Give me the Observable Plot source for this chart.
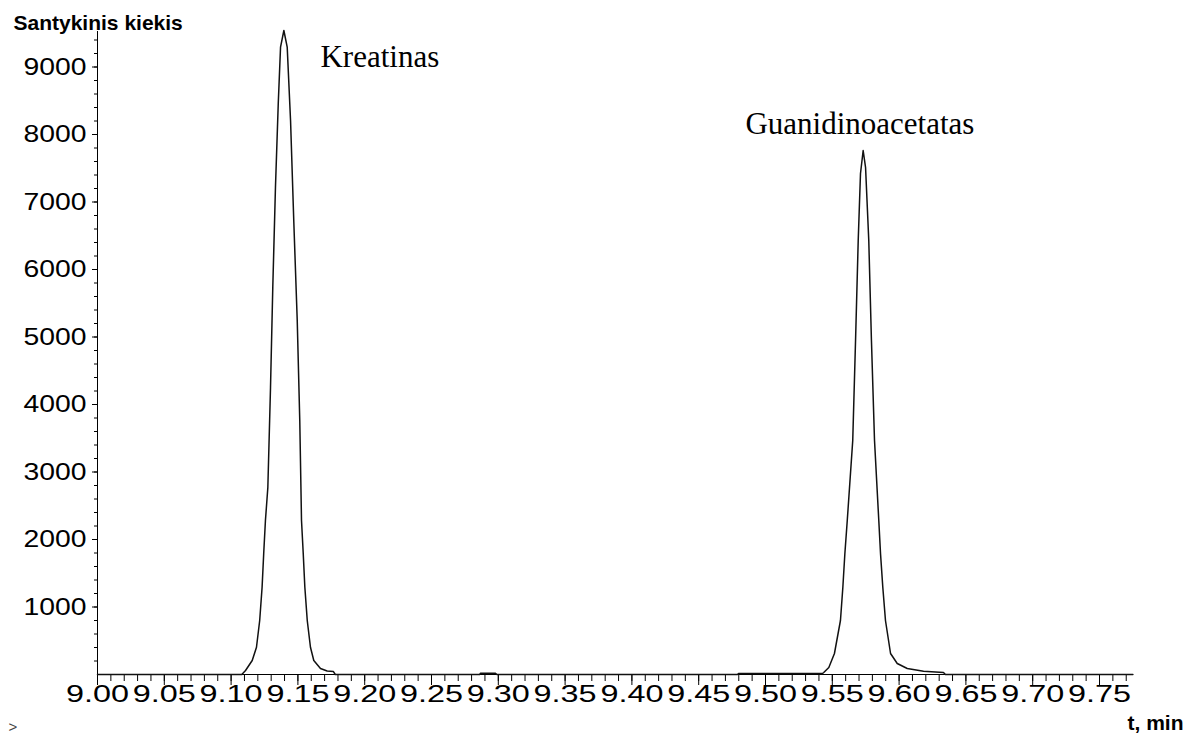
<!DOCTYPE html>
<html>
<head>
<meta charset="utf-8">
<script src="https://cdn.jsdelivr.net/npm/d3@7"></script>
<script src="https://cdn.jsdelivr.net/npm/@observablehq/plot@0.6"></script>
<style>
  html, body { margin: 0; padding: 0; background: #fff; }
  #chart { width: 1196px; height: 735px; overflow: hidden; }
</style>
</head>
<body>
<div id="chart"></div>
<script>
// Chromatogram trace: retention time (min) and relative abundance
const time = [
  9.000, 9.108, 9.1108, 9.1158, 9.1190, 9.1214, 9.1232, 9.1244, 9.1257,
  9.1275, 9.1295, 9.1312, 9.1332, 9.1353, 9.1370, 9.1395,
  9.1420, 9.1445, 9.1469, 9.1495, 9.1514, 9.1527, 9.1540, 9.1552, 9.1570,
  9.1594, 9.1619, 9.1669, 9.1719, 9.1766, 9.1780,
  9.2860, 9.2867, 9.2979, 9.2990,
  9.4790, 9.4798, 9.5427, 9.5436, 9.5474, 9.5516, 9.5561, 9.5579, 9.5594,
  9.5612, 9.5653, 9.5674, 9.5694, 9.5711, 9.5731,
  9.5749, 9.5773, 9.5793, 9.5816, 9.5848, 9.5861, 9.5878, 9.5898, 9.5936,
  9.5986, 9.6061, 9.6183, 9.6332, 9.6347,
  9.775
];
const intensity = [
  0, 0, 59, 207, 404, 800, 1293, 1788, 2281,
  2770, 4252, 5733, 7215, 8459, 9293, 9541,
  9293, 8207, 6726, 5244, 3763, 2281, 1788, 1293, 800,
  404, 207, 89, 52, 44, 0,
  0, 18, 18, 0,
  0, 15, 15, 30, 104, 311, 800, 1293, 1788,
  2281, 3467, 4948, 6430, 7422, 7763,
  7511, 6430, 4948, 3467, 2281, 1788, 1293, 800, 311,
  163, 89, 49, 30, 0,
  0
];

// Peak annotations
const peakNames = ["Kreatinas", "Guanidinoacetatas"];
const peakLabelTime = [9.1669, 9.485];
const peakLabelValue = [8997, 8010];

// Axis ticks
const xTicks = [9.00, 9.05, 9.10, 9.15, 9.20, 9.25, 9.30, 9.35, 9.40, 9.45, 9.50, 9.55, 9.60, 9.65, 9.70, 9.75];
const xMinorTicks = d3.range(0, 78).map(i => +(9 + i * 0.01).toFixed(2));
const yTicks = [1000, 2000, 3000, 4000, 5000, 6000, 7000, 8000, 9000];
const yMinorTicks = d3.range(200, 9600, 200);

const yTitle = "Santykinis kiekis";
const xTitle = "t, min";

const trace = time.map((t, i) => ({t, v: intensity[i]}));
const labels = peakNames.map((n, i) => ({name: n, t: peakLabelTime[i], v: peakLabelValue[i]}));

const sans = "'Liberation Sans', Arial, sans-serif";
const serif = "'Liberation Serif', 'Times New Roman', serif";

const plot = Plot.plot({
  width: 1196,
  height: 735,
  marginLeft: 97,
  marginRight: 63.6,
  marginTop: 31,
  marginBottom: 61,
  style: {background: "#fff", fontFamily: sans, color: "#000"},
  x: {domain: [9.0, 9.775], label: null},
  y: {domain: [0, 9526], label: null},
  marks: [
    Plot.axisY({ticks: yMinorTicks, tickSize: 3, text: null, label: null}),
    Plot.axisY({ticks: yTicks, tickSize: 5, tickPadding: 6, fontSize: 24, tickFormat: d => String(d), label: null}),
    Plot.axisX({ticks: xMinorTicks, tickSize: 7, text: null, label: null}),
    Plot.axisX({ticks: xTicks, tickSize: 11, tickPadding: -1, fontSize: 24, tickFormat: d3.format(".2f"), label: null}),
    Plot.ruleX([9.0], {stroke: "#000", strokeWidth: 1}),
    Plot.ruleY([0], {stroke: "#000", strokeWidth: 1}),
    Plot.line(trace, {x: "t", y: "v", stroke: "#111", strokeWidth: 1.5}),
    Plot.text(labels, {x: "t", y: "v", text: "name", textAnchor: "start", lineAnchor: "bottom",
      fontFamily: serif, fontSize: 31, fill: "#000"}),
    Plot.text([yTitle], {frameAnchor: "top-left", text: d => d, textAnchor: "start", lineAnchor: "bottom",
      dx: -84, dy: -1.5, fontSize: 21, fontWeight: "bold", fill: "#000"}),
    Plot.text([xTitle], {frameAnchor: "bottom-right", text: d => d, textAnchor: "start", lineAnchor: "bottom",
      dx: -5.4, dy: 55, fontSize: 21, fontWeight: "bold", fill: "#000"}),
    Plot.text([">"], {frameAnchor: "bottom-left", text: d => d, textAnchor: "start", lineAnchor: "bottom",
      dx: -89, dy: 57, fontSize: 15, fill: "#444"})
  ]
});

// The reference tick labels are horizontally stretched
plot.querySelectorAll('[aria-label="x-axis tick label"] text, [aria-label="y-axis tick label"] text').forEach(t => {
  t.setAttribute("textLength", 63);
  t.setAttribute("lengthAdjust", "spacingAndGlyphs");
});

document.getElementById("chart").appendChild(plot);
</script>
</body>
</html>
